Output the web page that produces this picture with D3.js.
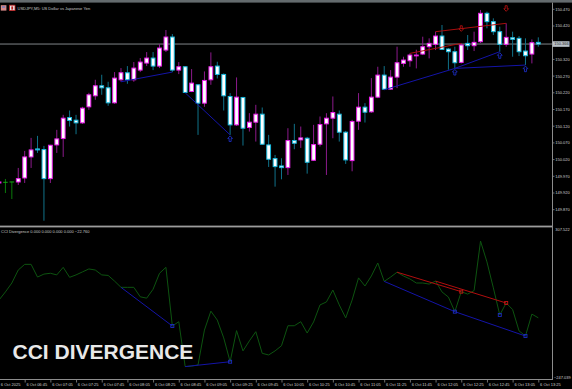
<!DOCTYPE html>
<html>
<head>
<meta charset="utf-8">
<title>CCI Divergence</title>
<script src="https://d3js.org/d3.v7.min.js"></script>
<style>
body { margin: 0; background: #000; overflow: hidden; }
text { font-family: "Liberation Sans", Arial, sans-serif; }
</style>
</head>
<body>
<script>
// USDJPY M5 bars, 06:25 .. 13:25
var open = [149.950,149.952,149.953,149.953,149.965,150.028,150.052,150.050,149.963,150.064,
  150.083,150.146,150.138,150.130,150.178,150.211,150.241,150.235,150.190,150.259,
  150.280,150.259,150.288,150.309,150.324,150.300,150.348,150.387,150.288,150.298,
  150.224,150.244,150.189,150.259,150.300,150.275,150.209,150.124,150.206,150.116,
  150.132,150.156,150.064,150.023,150.001,149.996,150.077,150.079,150.084,150.018,
  150.066,150.127,150.144,150.156,150.102,150.017,150.135,150.177,150.163,150.207,
  150.273,150.231,150.267,150.308,150.316,150.332,150.336,150.358,150.365,150.390,
  150.351,150.343,150.311,150.368,150.361,150.373,150.458,150.433,150.403,150.365,
  150.385,150.383,150.345,150.336,150.371];
var high = [149.956,149.962,149.954,149.995,150.046,150.085,150.091,150.061,150.064,150.109,
  150.154,150.167,150.154,150.178,150.220,150.259,150.274,150.253,150.282,150.294,
  150.300,150.312,150.324,150.342,150.342,150.366,150.408,150.396,150.312,150.300,
  150.291,150.246,150.284,150.341,150.313,150.278,150.219,150.266,150.208,150.159,
  150.184,150.176,150.094,150.034,150.024,150.114,150.127,150.119,150.088,150.124,
  150.149,150.159,150.209,150.167,150.106,150.139,150.219,150.189,150.264,150.298,
  150.300,150.288,150.358,150.328,150.338,150.349,150.388,150.383,150.403,150.423,
  150.354,150.358,150.368,150.393,150.403,150.468,150.463,150.443,150.418,150.428,
  150.403,150.390,150.383,150.380,150.386];
var low = [149.948,149.920,149.902,149.944,149.950,149.995,150.040,149.837,149.950,150.040,
  150.028,150.119,150.096,150.127,150.169,150.199,150.214,150.181,150.187,150.253,
  150.247,150.253,150.282,150.300,150.288,150.294,150.342,150.282,150.276,150.220,
  150.222,150.094,150.178,150.244,150.263,150.167,150.094,150.121,150.062,150.104,
  150.074,150.064,149.998,149.939,149.961,149.974,150.051,150.055,149.978,150.016,
  150.059,149.974,150.084,150.074,150.007,149.985,150.109,150.131,150.160,150.204,
  150.229,150.229,150.234,150.298,150.298,150.293,150.333,150.323,150.348,150.348,
  150.289,150.293,150.308,150.348,150.345,150.369,150.413,150.393,150.343,150.358,
  150.328,150.330,150.303,150.308,150.358];
var close = [149.953,149.952,149.953,149.963,150.028,150.049,150.049,149.963,150.063,150.082,
  150.144,150.137,150.130,150.174,150.214,150.241,150.235,150.190,150.264,150.280,
  150.259,150.294,150.312,150.324,150.300,150.354,150.387,150.288,150.298,150.221,
  150.249,150.189,150.257,150.298,150.275,150.211,150.124,150.207,150.114,150.132,
  150.156,150.066,150.021,149.999,149.996,150.077,150.069,150.085,150.012,150.065,
  150.125,150.144,150.161,150.102,150.019,150.134,150.177,150.162,150.207,150.273,
  150.231,150.267,150.310,150.318,150.333,150.333,150.358,150.368,150.390,150.350,
  150.343,150.310,150.363,150.361,150.371,150.458,150.433,150.403,150.365,150.386,
  150.380,150.343,150.331,150.370,150.366];

// CCI values, one per bar
var cci = [43,73,106,154,175,175,128,139,142,136,
  164,127,136,147,158,154,136,134,113,90,
  90,90,55,50,83,142,164,-53,-37,-203,
  -201,-197,-68,2,-31,-97,-185,-70,-145,-108,
  -74,-154,-160,-145,-126,-52,-52,-37,-79,-38,
  25,36,80,25,-23,43,125,95,132,180,
  112,128,146,132,121,106,106,102,113,73,
  54,0,74,65,78,261,184,88,-12,32,
  8,-71,-90,-9,-22.76];

// divergence pairs (bar indices)
var bullPricePairs = [[19,27],[29,36],[60,71],[71,78],[71,82]];
var bearPricePairs = [[64,72],[68,79]];
var bullCciPairs = [[19,27],[29,36],[60,71],[71,82]];
var bearCciPairs = [[62,72],[68,79]];
var bullSignals = [36,71,78,82];
var bearSignals = [72,79];
var bullCciMarks = [27,36,71,78,82];
var bearCciMarks = [72,79];

var priceTicks = [150.470,150.420,150.320,150.270,150.220,150.170,150.120,150.070,150.020,149.970,149.920,149.870];
var lastPrice = 150.366;
var cciMax = 307.522, cciMin = -247.039;
var timeLabels = ["6 Oct 2025","6 Oct 06:45","6 Oct 07:05","6 Oct 07:25","6 Oct 07:45","6 Oct 08:05",
  "6 Oct 08:25","6 Oct 08:45","6 Oct 09:05","6 Oct 09:25","6 Oct 09:45","6 Oct 10:05","6 Oct 10:25",
  "6 Oct 10:45","6 Oct 11:05","6 Oct 11:25","6 Oct 11:45","6 Oct 12:05","6 Oct 12:25","6 Oct 12:45",
  "6 Oct 13:05","6 Oct 13:25"];

var width = 572, height = 389, axisX = 552;

var svg = d3.select("body").append("svg")
    .attr("width", width)
    .attr("height", height)
    .style("background", "#000");

var x = d3.scaleLinear().domain([0, 84]).range([-1, 538.3]);
var y = d3.scaleLinear().domain([149.870, 150.470]).range([209.7, 9.3]);
var yc = d3.scaleLinear().domain([cciMin, cciMax]).range([378.5, 228.5]);

var defs = svg.append("defs");
defs.append("clipPath").attr("id", "pclip").append("rect")
    .attr("x", 0).attr("y", 3).attr("width", axisX).attr("height", 222);
defs.append("clipPath").attr("id", "cclip").append("rect")
    .attr("x", 0).attr("y", 228).attr("width", axisX).attr("height", 151);

// frame
svg.append("rect").attr("x", 0).attr("y", 0).attr("width", width).attr("height", 2.6).attr("fill", "#646b6e");
svg.append("rect").attr("x", 0).attr("y", 225.6).attr("width", axisX).attr("height", 1.8).attr("fill", "#9c9c9c");
svg.append("line").attr("x1", axisX + 0.5).attr("x2", axisX + 0.5).attr("y1", 2.6).attr("y2", 380)
    .attr("stroke", "#8c8c8c").attr("stroke-width", 1);
svg.append("line").attr("x1", 0).attr("x2", axisX + 1).attr("y1", 379.5).attr("y2", 379.5)
    .attr("stroke", "#8c8c8c").attr("stroke-width", 1);

// title
svg.append("rect").attr("x", 0.8).attr("y", 5.2).attr("width", 5.6).attr("height", 5.4).attr("fill", "#d88a8a");
svg.append("rect").attr("x", 2).attr("y", 6.3).attr("width", 3.2).attr("height", 1.4).attr("fill", "#6b7fc2");
svg.append("rect").attr("x", 9.6).attr("y", 5.2).attr("width", 5.4).attr("height", 5.4).attr("fill", "#e6e6e6")
    .attr("stroke", "#c02020").attr("stroke-width", 0.8);
svg.append("rect").attr("x", 11.3).attr("y", 6.4).attr("width", 1.8).attr("height", 3.2).attr("fill", "#c02020");
svg.append("text").attr("x", 17.5).attr("y", 9.6).attr("fill", "#c8c8c8").attr("font-size", "4px")
    .text("USDJPY,M5: US Dollar vs Japanese Yen");

// price axis
var paxis = svg.append("g");
paxis.selectAll(".pt").data(priceTicks).enter().append("line")
    .attr("x1", axisX).attr("x2", axisX + 2.5)
    .attr("y1", function(d) { return y(d); }).attr("y2", function(d) { return y(d); })
    .attr("stroke", "#8c8c8c").attr("stroke-width", 0.8);
paxis.selectAll(".pl").data(priceTicks).enter().append("text")
    .attr("x", axisX + 3.3).attr("y", function(d) { return y(d) + 1.4; })
    .attr("fill", "#d0d0d0").attr("font-size", "4px")
    .text(function(d) { return d3.format(".3f")(d); });

// current price line and label
svg.append("line").attr("x1", 0).attr("x2", axisX).attr("y1", y(lastPrice)).attr("y2", y(lastPrice))
    .attr("stroke", "#80868a").attr("stroke-width", 1);
svg.append("rect").attr("x", axisX + 0.5).attr("y", y(lastPrice) - 2.8).attr("width", 17).attr("height", 5.6)
    .attr("fill", "#b9c1c8");
svg.append("text").attr("x", axisX + 2.3).attr("y", y(lastPrice) + 1.4).attr("fill", "#2a2a2a")
    .attr("font-size", "4px").text(d3.format(".3f")(lastPrice));

// candles
var bars = d3.range(open.length).map(function(i) {
    return { i: i, o: open[i], h: high[i], l: low[i], c: close[i] };
});
function kind(d) { return d.c > d.o ? "up" : (d.c < d.o ? "down" : "flat"); }
var wickColor = { up: "#8c1a8c", down: "#10728a", flat: "#0a7a0a" };
var edgeColor = { up: "#ea20ea", down: "#18b8dc", flat: "#12a812" };

var pg = svg.append("g").attr("clip-path", "url(#pclip)");

pg.selectAll(".wick").data(bars).enter().append("line")
    .attr("class", "wick")
    .attr("x1", function(d) { return x(d.i); }).attr("x2", function(d) { return x(d.i); })
    .attr("y1", function(d) { return y(d.h); }).attr("y2", function(d) { return y(d.l); })
    .attr("stroke", function(d) { return wickColor[kind(d)]; })
    .attr("stroke-width", 1);

pg.selectAll(".body").data(bars.filter(function(d) { return kind(d) != "flat"; })).enter().append("rect")
    .attr("class", "body")
    .attr("x", function(d) { return x(d.i) - 1.9; })
    .attr("width", 3.8)
    .attr("y", function(d) { return y(Math.max(d.o, d.c)); })
    .attr("height", function(d) { return Math.max(Math.abs(y(d.o) - y(d.c)), 0.8); })
    .attr("fill", "#ffffff")
    .attr("stroke", function(d) { return edgeColor[kind(d)]; })
    .attr("stroke-width", 1);

pg.selectAll(".doji").data(bars.filter(function(d) { return kind(d) == "flat"; })).enter().append("line")
    .attr("class", "doji")
    .attr("x1", function(d) { return x(d.i) - 2.3; }).attr("x2", function(d) { return x(d.i) + 2.3; })
    .attr("y1", function(d) { return y(d.c); }).attr("y2", function(d) { return y(d.c); })
    .attr("stroke", edgeColor.flat).attr("stroke-width", 1);

// divergence lines on price
pg.selectAll(".bl").data(bullPricePairs).enter().append("line")
    .attr("x1", function(d) { return x(d[0]); }).attr("y1", function(d) { return y(low[d[0]]); })
    .attr("x2", function(d) { return x(d[1]); }).attr("y2", function(d) { return y(low[d[1]]); })
    .attr("stroke", "#1414a8").attr("stroke-width", 1);
pg.selectAll(".rl").data(bearPricePairs).enter().append("line")
    .attr("x1", function(d) { return x(d[0]); }).attr("y1", function(d) { return y(high[d[0]]); })
    .attr("x2", function(d) { return x(d[1]); }).attr("y2", function(d) { return y(high[d[1]]); })
    .attr("stroke", "#a80e0e").attr("stroke-width", 1);

function arrowUp(cx, cy) {
    return "M" + cx + "," + (cy - 3) + "L" + (cx + 2.4) + "," + (cy - 0.4) + "L" + (cx + 1) + "," + (cy - 0.4) +
        "L" + (cx + 1) + "," + (cy + 2.6) + "L" + (cx - 1) + "," + (cy + 2.6) + "L" + (cx - 1) + "," + (cy - 0.4) +
        "L" + (cx - 2.4) + "," + (cy - 0.4) + "Z";
}
function arrowDown(cx, cy) {
    return "M" + cx + "," + (cy + 3) + "L" + (cx + 2.4) + "," + (cy + 0.4) + "L" + (cx + 1) + "," + (cy + 0.4) +
        "L" + (cx + 1) + "," + (cy - 2.6) + "L" + (cx - 1) + "," + (cy - 2.6) + "L" + (cx - 1) + "," + (cy + 0.4) +
        "L" + (cx - 2.4) + "," + (cy + 0.4) + "Z";
}
pg.selectAll(".ua").data(bullSignals).enter().append("path")
    .attr("d", function(i) { return arrowUp(x(i), y(low[i]) + 4); })
    .attr("fill", "none").attr("stroke", "#1c2cc0").attr("stroke-width", 0.9);
pg.selectAll(".da").data(bearSignals).enter().append("path")
    .attr("d", function(i) { return arrowDown(x(i), y(high[i]) - 15); })
    .attr("fill", "none").attr("stroke", "#b01010").attr("stroke-width", 0.9);

// CCI pane
svg.append("text").attr("x", 1).attr("y", 233.4).attr("fill", "#c8c8c8").attr("font-size", "4px")
    .text("CCI Divergence 0.000 0.000 0.000 0.000 " + d3.format(".3f")(cci[cci.length - 1]));
svg.append("text").attr("x", axisX + 3.3).attr("y", yc(cciMax) + 2.6).attr("fill", "#d0d0d0").attr("font-size", "4px")
    .text(d3.format(".3f")(cciMax));
svg.append("text").attr("x", axisX + 2).attr("y", yc(cciMin) + 0.4).attr("fill", "#d0d0d0").attr("font-size", "4px")
    .text(d3.format(".3f")(cciMin));

var cg = svg.append("g").attr("clip-path", "url(#cclip)");
var cciLine = d3.line().x(function(d, i) { return x(i); }).y(function(d) { return yc(d); });
cg.append("path").datum(cci).attr("d", cciLine)
    .attr("fill", "none").attr("stroke", "#0d5410").attr("stroke-width", 1);

cg.selectAll(".cbl").data(bullCciPairs).enter().append("line")
    .attr("x1", function(d) { return x(d[0]); }).attr("y1", function(d) { return yc(cci[d[0]]); })
    .attr("x2", function(d) { return x(d[1]); }).attr("y2", function(d) { return yc(cci[d[1]]); })
    .attr("stroke", "#1414a8").attr("stroke-width", 1);
cg.selectAll(".crl").data(bearCciPairs).enter().append("line")
    .attr("x1", function(d) { return x(d[0]); }).attr("y1", function(d) { return yc(cci[d[0]]); })
    .attr("x2", function(d) { return x(d[1]); }).attr("y2", function(d) { return yc(cci[d[1]]); })
    .attr("stroke", "#b00e0e").attr("stroke-width", 1);
cg.selectAll(".cbm").data(bullCciMarks).enter().append("rect")
    .attr("x", function(i) { return x(i) - 1.5; }).attr("y", function(i) { return yc(cci[i]) - 1.5; })
    .attr("width", 3).attr("height", 3).attr("fill", "none").attr("stroke", "#1c2cc0").attr("stroke-width", 0.9);
cg.selectAll(".crm").data(bearCciMarks).enter().append("rect")
    .attr("x", function(i) { return x(i) - 1.5; }).attr("y", function(i) { return yc(cci[i]) - 1.5; })
    .attr("width", 3).attr("height", 3).attr("fill", "none").attr("stroke", "#c01414").attr("stroke-width", 0.9);

// time axis
var tg = svg.append("g");
tg.selectAll(".tt").data(timeLabels).enter().append("line")
    .attr("x1", function(d, k) { return x(k * 4) + 0.5; }).attr("x2", function(d, k) { return x(k * 4) + 0.5; })
    .attr("y1", 379.5).attr("y2", 382.5)
    .attr("stroke", "#8c8c8c").attr("stroke-width", 0.8);
tg.selectAll(".tl").data(timeLabels).enter().append("text")
    .attr("x", function(d, k) { return x(k * 4) + 1.8; }).attr("y", 385.6)
    .attr("fill", "#d0d0d0").attr("font-size", "4px")
    .text(function(d) { return d; });

// overlay caption
svg.append("text").attr("x", 12.5).attr("y", 359)
    .attr("fill", "#e8e8e8")
    .attr("font-family", "'Open Sans', 'Noto Sans', sans-serif")
    .attr("font-weight", "bold")
    .attr("font-size", "21px")
    .text("CCI DIVERGENCE");
</script>
</body>
</html>
